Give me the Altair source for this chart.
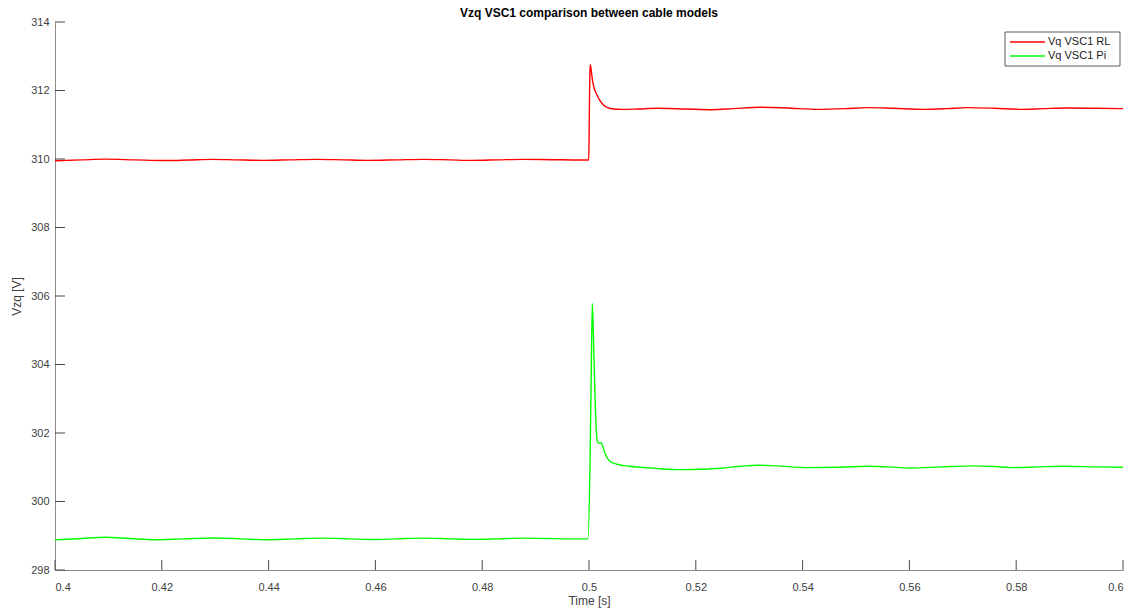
import altair as alt
import pandas as pd

# ---- data ----
red_t = [0.400, 0.405, 0.4094, 0.415, 0.4206, 0.425, 0.4294, 0.434, 0.4388, 0.444,
         0.449, 0.454, 0.4586, 0.464, 0.469, 0.474, 0.478, 0.483, 0.4875, 0.493,
         0.4985, 0.49995, 0.50002, 0.5001, 0.50018, 0.50025, 0.5004, 0.5007, 0.5010,
         0.5014, 0.5020, 0.5027, 0.5035, 0.5046, 0.5060, 0.5090, 0.5127, 0.518,
         0.523, 0.527, 0.532, 0.537, 0.543, 0.548, 0.552, 0.557, 0.5626, 0.567,
         0.5708, 0.576, 0.5807, 0.585, 0.5895, 0.595, 0.600]
red_v = [309.95, 309.975, 309.995, 309.975, 309.955, 309.97, 309.99, 309.975, 309.96, 309.975,
         309.99, 309.975, 309.96, 309.975, 309.99, 309.975, 309.96, 309.975, 309.99, 309.98,
         309.97, 309.97, 310.7, 311.9, 312.55, 312.75, 312.6, 312.25, 312.05,
         311.9, 311.72, 311.58, 311.5, 311.46, 311.45, 311.46, 311.48, 311.46,
         311.44, 311.47, 311.51, 311.49, 311.45, 311.47, 311.5, 311.48, 311.45, 311.47,
         311.5, 311.48, 311.45, 311.47, 311.49, 311.48, 311.47]

green_t = [0.400, 0.405, 0.4094, 0.414, 0.4187, 0.424, 0.430, 0.435, 0.4393, 0.445,
           0.450, 0.455, 0.4594, 0.464, 0.4688, 0.474, 0.478, 0.483, 0.4875, 0.492,
           0.4964, 0.4998, 0.5002, 0.5004, 0.50062, 0.5008, 0.5010, 0.5012, 0.5014,
           0.5016, 0.5019, 0.5023, 0.5026, 0.5030, 0.5035, 0.5040, 0.5050, 0.5075,
           0.5096, 0.513, 0.5176, 0.521, 0.5251, 0.5285, 0.5314, 0.535, 0.5408,
           0.5465, 0.552, 0.556, 0.560, 0.566, 0.572, 0.576, 0.5794, 0.584, 0.5888,
           0.595, 0.600]
green_v = [298.88, 298.92, 298.955, 298.92, 298.885, 298.91, 298.935, 298.91, 298.885, 298.91,
           298.93, 298.91, 298.89, 298.91, 298.93, 298.91, 298.895, 298.91, 298.93, 298.92,
           298.91, 298.91, 301.2, 303.5, 305.78, 305.0, 303.8, 302.7, 302.0,
           301.75, 301.7, 301.72, 301.6, 301.4, 301.25, 301.17, 301.1, 301.03,
           301.0, 300.96, 300.93, 300.94, 300.98, 301.03, 301.06, 301.04, 300.99,
           301.0, 301.03, 301.01, 300.98, 301.01, 301.04, 301.02, 300.99, 301.01, 301.03,
           301.01, 301.0]

series_names = ["Vq VSC1 RL", "Vq VSC1 Pi"]
series_colors = ["#FF0000", "#00FF00"]
x_ticks = [0.40, 0.42, 0.44, 0.46, 0.48, 0.50, 0.52, 0.54, 0.56, 0.58, 0.60]
y_ticks = [298, 300, 302, 304, 306, 308, 310, 312, 314]

# ---- build tables ----
df = pd.concat([
    pd.DataFrame({"t": red_t, "v": red_v, "series": series_names[0]}),
    pd.DataFrame({"t": green_t, "v": green_v, "series": series_names[1]}),
])
xt = pd.DataFrame({"t": x_ticks})
yt = pd.DataFrame({"v": y_ticks})
leg = pd.DataFrame({"series": series_names})

W, H = 1068, 548
FONT = "Liberation Sans"

xscale = alt.Scale(domain=[0.4, 0.6], nice=False, zero=False)
yscale = alt.Scale(domain=[298, 314], nice=False, zero=False)
cscale = alt.Scale(domain=series_names, range=series_colors)

lines = alt.Chart(df).mark_line(strokeWidth=1.4, interpolate="monotone", clip=True).encode(
    x=alt.X("t:Q", scale=xscale, title="Time [s]",
            axis=alt.Axis(values=x_ticks, format="~g", grid=False, tickSize=0,
                          labelPadding=11, titlePadding=3)),
    y=alt.Y("v:Q", scale=yscale, title="Vzq [V]",
            axis=alt.Axis(values=y_ticks, format="d", grid=False, tickSize=0,
                          labelPadding=6, titlePadding=7)),
    color=alt.Color("series:N", scale=cscale, legend=None),
    detail="series:N",
)

xticks = alt.Chart(xt).mark_rule(color="#4a4a4a", strokeWidth=1).encode(
    x=alt.X("t:Q", scale=xscale),
    y=alt.value(H),
    y2=alt.value(H - 10),
)
yticks = alt.Chart(yt).mark_rule(color="#4a4a4a", strokeWidth=1).encode(
    y=alt.Y("v:Q", scale=yscale),
    x=alt.value(0),
    x2=alt.value(10),
)

# legend box
leg_box = alt.Chart(leg).mark_rect(fill="white", stroke="#333333", strokeWidth=0.8).encode(
    x=alt.value(950), x2=alt.value(1065), y=alt.value(10), y2=alt.value(44)
).transform_filter(alt.datum.series == series_names[0])

leg_layers = []
for i, name in enumerate(series_names):
    yy = 20 + i * 14
    sub = leg.loc[[i]]
    leg_layers.append(
        alt.Chart(sub).mark_rule(strokeWidth=1.4).encode(
            x=alt.value(955), x2=alt.value(990), y=alt.value(yy),
            color=alt.Color("series:N", scale=cscale, legend=None),
        )
    )
    leg_layers.append(
        alt.Chart(sub).mark_text(align="left", baseline="middle", font=FONT,
                                 fontSize=11, color="#1a1a1a").encode(
            x=alt.value(993), y=alt.value(yy), text="series:N"
        )
    )

chart = alt.layer(lines, xticks, yticks, leg_box, *leg_layers).properties(
    width=W, height=H,
    title=alt.TitleParams("Vzq VSC1 comparison between cable models", font=FONT,
                          fontSize=12, fontWeight="bold", anchor="middle",
                          color="#000000", offset=-4),
    autosize=alt.AutoSizeParams(type="none"),
    padding={"left": 55, "top": 22, "right": 13, "bottom": 44},
).configure_view(stroke=None).configure_axis(
    domainColor="#8c8c8c", domainWidth=1, labelFont=FONT, labelFontSize=11,
    labelColor="#404040", titleFont=FONT, titleFontSize=12, titleColor="#404040",
    titleFontWeight="normal",
)

chart.save("out.html", embed_options={"renderer": "svg", "actions": False})
